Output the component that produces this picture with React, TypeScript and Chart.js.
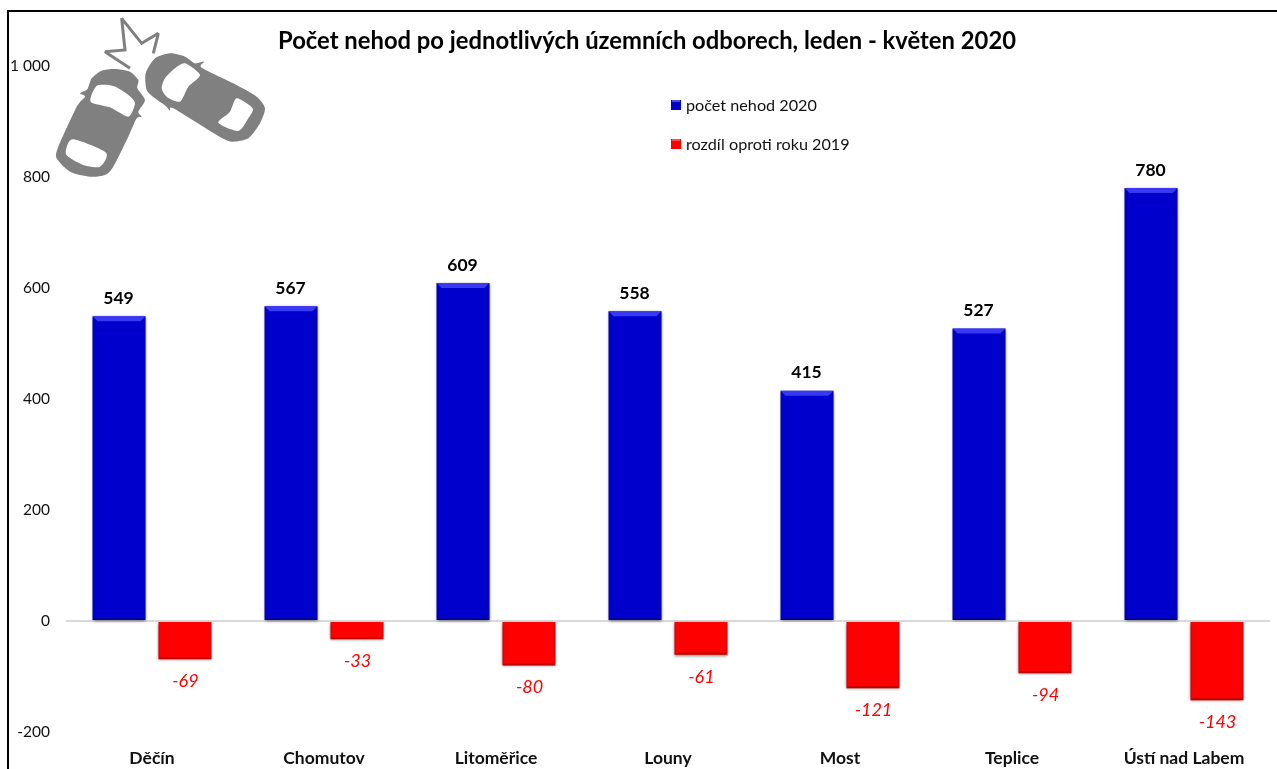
import React, { useEffect, useRef } from "react";
import { Chart, registerables } from "chart.js";

Chart.register(...registerables);

const categories = ["Děčín", "Chomutov", "Litoměřice", "Louny", "Most", "Teplice", "Ústí nad Labem"];
const accidents2020 = [549, 567, 609, 558, 415, 527, 780];
const diffFrom2019 = [-69, -33, -80, -61, -121, -94, -143];
const seriesNames = ["počet nehod 2020", "rozdíl oproti roku 2019"];
const chartTitle = "Počet nehod po jednotlivých územních odborech, leden - květen 2020";

const FONT = "Lato, Carlito, Calibri, sans-serif";
const BLUE = "#0000cc";
const RED = "#ff0000";

// Decorative icon outlines (reference-crop units, 3x page pixels)
const car1 = [[345,207],[390,215],[415,240],[412,265],[435,300],[415,335],[425,350],[410,355],[385,410],[340,500],[315,525],[270,530],[210,515],[170,475],[175,440],[230,320],[255,290],[240,280],[262,268],[275,235],[305,212]];
const car1Win1 = [[290,258],[340,258],[385,285],[405,310],[385,350],[330,322],[272,305]];
const car1Win2 = [[218,418],[318,458],[300,500],[250,495],[198,463]];
const car2 = [[510,160],[555,170],[585,190],[612,185],[605,203],[700,250],[770,290],[795,325],[780,370],[745,415],[695,425],[650,405],[520,325],[510,332],[497,318],[465,295],[440,270],[437,220],[465,175]];
const car2Win1 = [[555,190],[600,225],[565,260],[540,305],[500,290],[485,265],[495,235],[525,205]];
const car2Win2 = [[710,295],[758,325],[745,355],[715,393],[655,368],[690,335]];
const star = [[390,205],[315,155],[375,150],[365,55],[425,130],[475,100],[460,160]];

function smooth(ctx: CanvasRenderingContext2D, pts: number[][], color: string) {
  const n = pts.length;
  const P = (i: number) => {
    const p = pts[(i + n) % n];
    return [p[0] / 3, p[1] / 3];
  };
  const k = 0.12; // gentle Catmull-Rom tension keeps the traced points
  ctx.beginPath();
  ctx.moveTo(P(0)[0], P(0)[1]);
  for (let i = 0; i < n; i++) {
    const p0 = P(i - 1), p1 = P(i), p2 = P(i + 1), p3 = P(i + 2);
    ctx.bezierCurveTo(
      p1[0] + (p2[0] - p0[0]) * k, p1[1] + (p2[1] - p0[1]) * k,
      p2[0] - (p3[0] - p1[0]) * k, p2[1] - (p3[1] - p1[1]) * k,
      p2[0], p2[1]
    );
  }
  ctx.closePath();
  ctx.fillStyle = color;
  ctx.fill();
}

const decorPlugin = {
  id: "decor",
  beforeDatasetsDraw(chart: any) {
    const ctx = chart.ctx;
    ctx.save();
    // frame
    ctx.fillStyle = "#000";
    ctx.fillRect(7, 10, 1270, 2);
    ctx.fillRect(7, 10, 2, 759);
    // title
    ctx.fillStyle = "#000";
    ctx.font = `bold 23.8px ${FONT}`;
    ctx.textAlign = "center";
    ctx.textBaseline = "middle";
    ctx.fillText(chartTitle, 647, 41.5);
    // icon
    const grey = "#808080";
    smooth(ctx, car1, grey);
    smooth(ctx, car1Win1, "#fff");
    smooth(ctx, car1Win2, "#fff");
    smooth(ctx, car2, grey);
    smooth(ctx, car2Win1, "#fff");
    smooth(ctx, car2Win2, "#fff");
    ctx.beginPath();
    star.forEach((p, i) => (i ? ctx.lineTo(p[0] / 3, p[1] / 3) : ctx.moveTo(p[0] / 3, p[1] / 3)));
    ctx.strokeStyle = grey;
    ctx.lineWidth = 3;
    ctx.miterLimit = 2;
    ctx.stroke();
    // legend
    ctx.font = `16.2px ${FONT}`;
    ctx.textAlign = "left";
    chart.data.datasets.forEach((ds: any, i: number) => {
      const y = 105 + i * 39;
      ctx.fillStyle = ds.backgroundColor;
      ctx.fillRect(671, y - 5, 10, 10);
      ctx.fillStyle = "rgba(255,255,255,0.3)";
      ctx.fillRect(672, y - 5, 8, 2);
      ctx.fillStyle = "#111";
      ctx.fillText(ds.label, 686, y + 1);
    });
    ctx.restore();
  },
  beforeDatasetDraw(chart: any) {
    const ctx = chart.ctx;
    ctx.save();
    ctx.shadowColor = "rgba(0,0,0,0.5)";
    ctx.shadowBlur = 3;
    ctx.shadowOffsetX = 0;
    ctx.shadowOffsetY = 1;
  },
  afterDatasetDraw(chart: any, args: any) {
    const ctx = chart.ctx;
    ctx.restore();
    ctx.save();
    const meta = chart.getDatasetMeta(args.index);
    const ds = chart.data.datasets[args.index];
    meta.data.forEach((bar: any, i: number) => {
      const l = bar.x - bar.width / 2;
      const r = bar.x + bar.width / 2;
      const t = Math.min(bar.y, bar.base);
      const b = Math.max(bar.y, bar.base);
      const trap = (pts: number[][], color: string) => {
        ctx.beginPath();
        pts.forEach((p, k) => (k ? ctx.lineTo(p[0], p[1]) : ctx.moveTo(p[0], p[1])));
        ctx.closePath();
        ctx.fillStyle = color;
        ctx.fill();
      };
      if (args.index === 0) {
        trap([[l, t], [r, t], [r - 5, t + 5], [l + 5, t + 5]], "rgba(70,70,255,0.8)");
      }
      trap([[l, b], [r, b], [r - 2, b - 2], [l + 2, b - 2]], "rgba(0,0,0,0.25)");
      trap([[l, t], [l + 1, t + 1], [l + 1, b - 1], [l, b]], "rgba(0,0,0,0.2)");
      trap([[r, t], [r - 1, t + 1], [r - 1, b - 1], [r, b]], "rgba(0,0,0,0.2)");
      // value label
      const v = ds.data[i];
      ctx.textAlign = "center";
      ctx.textBaseline = "middle";
      if (v >= 0) {
        ctx.font = `bold 17.5px ${FONT}`;
        ctx.fillStyle = "#000";
        ctx.fillText(String(v), bar.x - 0.5, t - 18);
      } else {
        ctx.font = `italic 18px ${FONT}`;
        ctx.fillStyle = RED;
        ctx.fillText(String(v), bar.x + 0.5, b + 22);
      }
    });
    ctx.restore();
  },
};

export default function App() {
  const ref = useRef<HTMLCanvasElement>(null);
  useEffect(() => {
    const chart = new Chart(ref.current!, {
      type: "bar",
      data: {
        labels: categories,
        datasets: [
          { label: seriesNames[0], data: accidents2020, backgroundColor: BLUE },
          { label: seriesNames[1], data: diffFrom2019, backgroundColor: RED },
        ],
      },
      options: {
        responsive: false,
        animation: false,
        layout: { padding: { left: 0, right: 7, top: 66, bottom: 0 } },
        datasets: { bar: { categoryPercentage: 0.767, barPercentage: 0.803 } },
        plugins: { legend: { display: false }, title: { display: false }, tooltip: { enabled: false } },
        scales: {
          x: {
            grid: { display: false },
            border: { display: false },
            ticks: { color: "#111", font: { family: FONT, size: 17.5, weight: "bold" }, padding: 8, maxRotation: 0 },
            afterFit(s: any) { s.height = 37; },
          },
          y: {
            min: -200,
            max: 1000,
            border: { display: false },
            grid: {
              color: (c: any) => (c.tick && c.tick.value === 0 ? "#d9d9d9" : "transparent"),
              lineWidth: 2,
              drawTicks: false,
            },
            ticks: {
              stepSize: 200,
              color: "#111",
              font: { family: FONT, size: 15.5 },
              padding: 16,
              callback: (v: any) => (v === 1000 ? "1 000" : String(v)),
            },
            afterFit(s: any) { s.width = 66; },
          },
        },
      },
      plugins: [decorPlugin],
    } as any);
    return () => chart.destroy();
  }, []);
  return (
    <canvas
      ref={ref}
      width={1277}
      height={769}
      style={{ position: "fixed", left: 0, top: 0, width: 1277, height: 769, display: "block", background: "#fff" }}
    />
  );
}
